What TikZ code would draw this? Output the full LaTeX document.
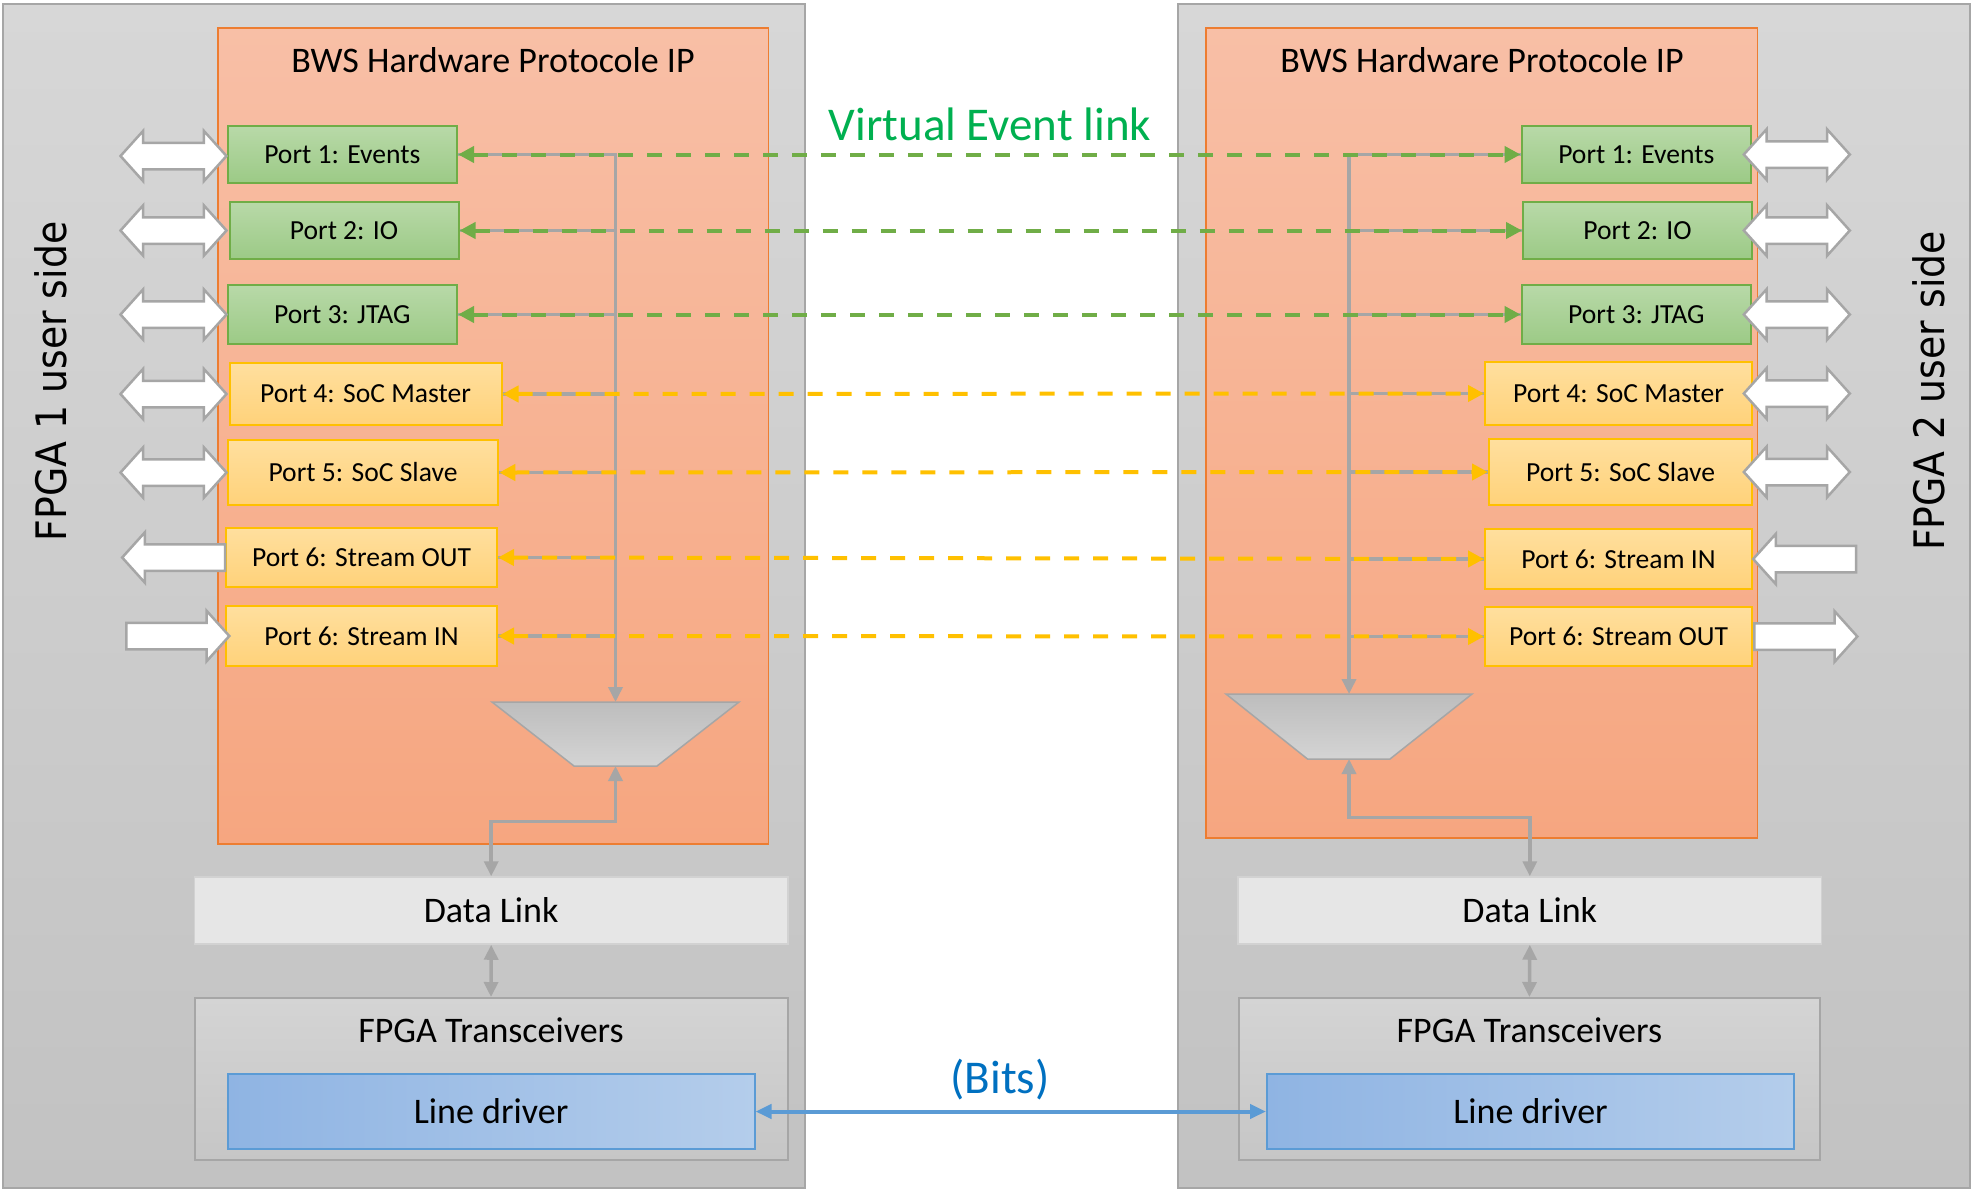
\documentclass[tikz,border=0pt]{standalone}
\usepackage{fontspec}
\setmainfont{Carlito}
\newfontfamily\sidefont{DejaVu Sans}[FakeStretch=0.9]
\usetikzlibrary{positioning,shapes.arrows,arrows.meta}

\definecolor{panelTop}{HTML}{D7D7D7}
\definecolor{panelBot}{HTML}{C2C2C2}
\definecolor{edgeGray}{HTML}{A6A6A6}
\definecolor{ipTop}{HTML}{F8BFA6}
\definecolor{ipBot}{HTML}{F6A680}
\definecolor{ipEdge}{HTML}{ED7D31}
\definecolor{gTop}{HTML}{B8D9A8}
\definecolor{gBot}{HTML}{9CCA86}
\definecolor{gEdge}{HTML}{70AD47}
\definecolor{yTop}{HTML}{FFDF9E}
\definecolor{yBot}{HTML}{FFD27A}
\definecolor{yEdge}{HTML}{FFC000}
\definecolor{muxTop}{HTML}{BDBDBD}
\definecolor{muxBot}{HTML}{D4D4D4}
\definecolor{linkFill}{HTML}{E6E6E6}
\definecolor{xcvrTop}{HTML}{D4D4D4}
\definecolor{xcvrBot}{HTML}{C6C6C6}
\definecolor{drvLeft}{HTML}{8FB4E3}
\definecolor{drvRight}{HTML}{B4CDEB}
\definecolor{drvEdge}{HTML}{5B9BD5}
\definecolor{evGreen}{HTML}{00B050}
\definecolor{bitsBlue}{HTML}{0070C0}

\begin{document}
\begin{tikzpicture}[
                x=1pt,y=-1pt,
                >={Triangle[length=15pt,width=14pt]},
                panel/.style={draw=edgeGray,line width=1.5pt,top color=panelTop,bottom color=panelBot},
                ipblock/.style={draw=ipEdge,line width=1.5pt,top color=ipTop,bottom color=ipBot},
                iptitle/.style={anchor=base,font=\fontsize{36}{40}\selectfont},
                port/.style={rectangle,line width=2pt,inner sep=0pt,font=\fontsize{27.6}{30}\selectfont},
                gport/.style={port,draw=gEdge,top color=gTop,bottom color=gBot},
                yport/.style={port,draw=yEdge,top color=yTop,bottom color=yBot},
                muxshape/.style={draw=edgeGray,line width=1.5pt,top color=muxTop,bottom color=muxBot},
                uarrow/.style={double arrow,draw=edgeGray,fill=white,line width=2.5pt,inner xsep=0pt,inner ysep=12pt,
                    minimum height=106pt,double arrow head extend=12pt,double arrow tip angle=96},
                sarrow/.style={single arrow,draw=edgeGray,fill=white,line width=2.5pt,inner xsep=0pt,inner ysep=12pt,
                    minimum height=103pt,single arrow head extend=12pt,single arrow tip angle=96,anchor=tip},
                linkbox/.style={rectangle,draw=edgeGray!50,line width=1.5pt,fill=linkFill,font=\fontsize{36}{40}\selectfont},
                xcvrbox/.style={rectangle,draw=edgeGray,line width=2pt,top color=xcvrTop,bottom color=xcvrBot},
                drvbox/.style={rectangle,draw=drvEdge,line width=2pt,left color=drvLeft,right color=drvRight,
                    font=\fontsize{36}{40}\selectfont},
                bus/.style={draw=edgeGray,line width=3.5pt},
                vlink/.style={draw=gEdge,line width=4pt,dash pattern=on 15pt off 14pt,
                    {Triangle[length=16pt,width=16pt]}-{Triangle[length=16pt,width=16pt]}},
                ylink/.style={vlink,draw=yEdge},
                bits/.style={draw=drvEdge,line width=4pt,{Triangle[length=16pt,width=14pt]}-{Triangle[length=16pt,width=14pt]}},
                sidelabel/.style={rotate=90,font=\sidefont\fontsize{42}{44}\selectfont}
            ]
                \useasboundingbox (0,0) rectangle (1972,1189);
                % FPGA panels
                \path[panel] (3,4) rectangle (805,1188);
                \path[panel] (1178,4) rectangle (1970,1188);
                \node (lside) [sidelabel] at (51,381.5) {FPGA 1 user side};
                \node (rside) [sidelabel] at (1929,391) {FPGA 2 user side};

                % protocol IP blocks
                \path[ipblock] (218,28) rectangle (768.5,844);
                \path[ipblock] (1206,28) rectangle (1757.5,838);
                \node (lip) [iptitle] at (493,72) {BWS Hardware Protocole IP};
                \node (rip) [iptitle] at (1482,72) {BWS Hardware Protocole IP};

                % FPGA 1 ports
                \node (l1) [gport,minimum width=229.5pt,minimum height=57pt] at (342.3,154.5) {Port 1: Events};
                \node (l2) [gport,minimum width=229pt,minimum height=57pt] at (344,230.5) {Port 2: IO};
                \node (l3) [gport,minimum width=229.5pt,minimum height=59pt] at (342.3,314.5) {Port 3: JTAG};
                \node (l4) [yport,minimum width=272pt,minimum height=62pt] at (365.5,394) {Port 4: SoC Master};
                \node (l5) [yport,minimum width=270.5pt,minimum height=65pt] at (363,472.5) {Port 5: SoC Slave};
                \node (l6) [yport,minimum width=271pt,minimum height=59pt] at (361.5,557.5) {Port 6: Stream OUT};
                \node (l7) [yport,minimum width=271pt,minimum height=60pt] at (361.5,636) {Port 6: Stream IN};

                % FPGA 2 ports
                \node (r1) [gport,minimum width=229.5pt,minimum height=57pt] at (1636.3,154.5) {Port 1: Events};
                \node (r2) [gport,minimum width=229pt,minimum height=57pt] at (1637.5,230.5) {Port 2: IO};
                \node (r3) [gport,minimum width=229.5pt,minimum height=59pt] at (1636.3,314.5) {Port 3: JTAG};
                \node (r4) [yport,minimum width=267pt,minimum height=63pt] at (1618.5,393.5) {Port 4: SoC Master};
                \node (r5) [yport,minimum width=263pt,minimum height=66pt] at (1620.5,472) {Port 5: SoC Slave};
                \node (r6) [yport,minimum width=267pt,minimum height=60pt] at (1618.5,559) {Port 6: Stream IN};
                \node (r7) [yport,minimum width=267pt,minimum height=59pt] at (1618.5,636.5) {Port 6: Stream OUT};

                % user side arrows
                \foreach \n/\y in {1/156,2/230.5,3/314.5,4/394,5/472.5}
                    \node (la\n) [uarrow] at (173.5,\y) {};
                \node (la6) [sarrow,shape border rotate=180] at (120.5,557.5) {};
                \node (la7) [sarrow] at (231,636) {};
                \foreach \n/\y in {1/154.5,2/230.5,3/314.5,4/393.5,5/472}
                    \node (ra\n) [uarrow] at (1796.8,\y) {};
                \node (ra6) [sarrow,shape border rotate=180] at (1751.5,559) {};
                \node (ra7) [sarrow] at (1859,636.5) {};

                % muxes
                \path[muxshape] (492,702) -- (739,702) -- (657,766) -- (574,766) -- cycle;
                \coordinate (lmuxin) at (615.5,702);
                \coordinate (lmuxout) at (615.5,766);
                \path[muxshape] (1226,694) -- (1472,694) -- (1390,759) -- (1307.5,759) -- cycle;
                \coordinate (rmuxin) at (1349,694);
                \coordinate (rmuxout) at (1349,759);

                % data link and transceivers
                \node (llink) [linkbox,minimum width=593.5pt,minimum height=67pt] at (491.2,910.5) {Data Link};
                \node (rlink) [linkbox,minimum width=583.5pt,minimum height=67pt] at (1529.8,910.5) {Data Link};
                \node (lxcvr) [xcvrbox,minimum width=593pt,minimum height=162pt] at (491,1079) {};
                \node (rxcvr) [xcvrbox,minimum width=581.3pt,minimum height=162pt] at (1529.4,1079) {};
                \node (lxcvrtitle) [iptitle] at (491,1042) {FPGA Transceivers};
                \node (rxcvrtitle) [iptitle] at (1529.4,1042) {FPGA Transceivers};
                \node (ldrv) [drvbox,minimum width=526.8pt,minimum height=75pt] at (491.1,1111.5) {Line driver};
                \node (rdrv) [drvbox,minimum width=527pt,minimum height=75pt] at (1530.5,1111.5) {Line driver};

                % internal buses
                \draw[bus,->] (l1.east) -| (lmuxin);
                \foreach \n in {2,...,7}
                    \draw[bus] (l\n.east) -- (l\n.east -| lmuxin);
                \draw[bus,->] (r1.west) -| (rmuxin);
                \foreach \n in {2,...,7}
                    \draw[bus] (r\n.west) -- (r\n.west -| rmuxin);
                \draw[bus,<->] (llink.north) -- ++(0,-55) -| (lmuxout);
                \draw[bus,<->] (rlink.north) -- ++(0,-59) -| (rmuxout);
                \draw[bus,<->] (llink.south) -- (lxcvr.north);
                \draw[bus,<->] (rlink.south) -- (rxcvr.north);

                % virtual links
                \foreach \n in {1,2,3}
                    \draw[vlink] (l\n.east) -- (r\n.west);
                \foreach \n in {4,...,7}
                    \draw[ylink] (l\n.east) -- (r\n.west);
                \draw[bits] (ldrv.east) -- (rdrv.west);

                \node (vlabel) [anchor=base,text=evGreen,font=\fontsize{47}{50}\selectfont] at (990,140) {Virtual Event link};
                \node (blabel) [anchor=base,text=bitsBlue,font=\fontsize{47}{50}\selectfont] at (1000,1093) {(Bits)};
            \end{tikzpicture}
\end{document}
